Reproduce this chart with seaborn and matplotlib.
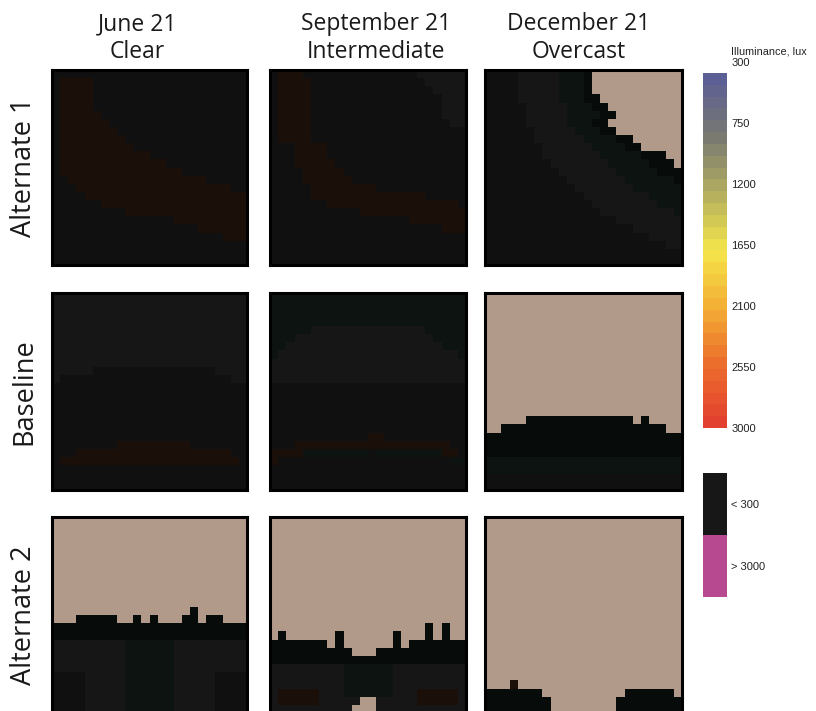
"""
Daylight illuminance grids: three design cases x three sky conditions.
"""
import numpy as np
import matplotlib
matplotlib.use("Agg")
import matplotlib.pyplot as plt
from matplotlib.colors import ListedColormap, LinearSegmentedColormap, Normalize
from matplotlib.cm import ScalarMappable
import seaborn as sns

sns.set_theme(style="white")
plt.rcParams["font.family"] = ["Open Sans", "DejaVu Sans"]

# --- data ---------------------------------------------------------------
dates = ["June 21", "September 21", "December 21"]
skies = ["Clear", "Intermediate", "Overcast"]
cases = ["Alternate 1", "Baseline", "Alternate 2"]

# cell classes (run-length rows, 24 cells each)
codes = [".", "d", "g", "x", "b", "t"]
code_colors = ["#101010", "#161616", "#0c1310", "#070b09", "#1b1009", "#b29a8b"]

alt1_jun = [
    ".24",
    ".1 b4 .19", ".1 b4 .19", ".1 b4 .19", ".1 b4 .19",
    ".1 b5 .18", ".1 b6 .17", ".1 b7 .16", ".1 b8 .15", ".1 b9 .14",
    ".1 b11 .12", ".1 b13 .10", ".1 b15 .8", ".2 b17 .5", ".3 b19 .2",
    ".4 b20", ".6 b18", ".9 b15", ".15 b9", ".18 b6", ".21 b3",
    ".24", ".24", ".24",
]
alt1_sep = [
    ".1 b3 .14 d6", ".1 b4 .14 d5", ".1 b4 .15 d4", ".1 b4 .16 d3",
    ".1 b4 .16 d3", ".1 b4 .16 d3", ".1 b4 .17 d2", ".1 b4 .19",
    ".1 b4 .19", ".3 b4 .17", ".3 b4 .17", ".3 b5 .16", ".4 b5 .15",
    ".4 b6 .14", ".5 b8 .11", ".5 b14 .5", ".7 b16 .1", ".11 b13",
    ".17 b7", ".21 b3",
    ".24", ".24", ".24", ".24",
]
alt1_dec = [
    ".4 d5 g3 x1 t11", ".4 d5 g3 x1 t11", ".4 d5 g3 x1 t11",
    ".4 d5 g3 x2 t10", ".5 d5 g3 x2 t9", ".5 d5 g4 x2 t8",
    ".5 d5 g3 x2 t9", ".6 d5 g3 x2 t8", ".6 d6 g4 x2 t6",
    ".7 d6 g4 x2 t5", ".7 d7 g5 x3 t2", ".8 d7 g5 x3 t1",
    ".9 d7 g5 x3", ".10 d7 g6 x1", ".11 d7 g6", ".12 d8 g4",
    ".13 d8 g3", ".14 d9 g1", ".16 d8", ".18 d6", ".20 d4", ".22 d2",
    ".24", ".24",
]
base_jun = (
    ["d24"] * 9
    + ["d5 .15 d4", "d1 .21 d2"]
    + [".24"] * 7
    + [".8 b9 .7", ".3 b19 .2", ".1 b22 .1"]
    + [".24"] * 3
)
base_sep = (
    ["g24"] * 4
    + ["g5 d14 g5", "g3 d17 g4", "g2 d19 g3", "g1 d22 g1"]
    + ["d24"] * 3
    + [".24"] * 6
    + [".12 b2 .10", ".3 b19 .2", "b4 g8 .1 g8 b2 .1", "b1 .21 g2"]
    + [".24"] * 3
)
base_dec = (
    ["t24"] * 15
    + ["t5 x13 t1 x1 t4", "t2 x20 t2"]
    + ["x24"] * 3
    + ["g24"] * 2
    + [".24"] * 2
)
alt2_jun = (
    ["t24"] * 11
    + ["t17 x1 t6", "t3 x5 t2 x1 t1 x1 t3 x2 t1 x2 t3"]
    + ["x24"] * 2
    + ["d9 g6 d9"] * 4
    + [".4 d5 g6 d5 .4"] * 5
)
alt2_sep = (
    ["t24"] * 13
    + ["t19 x1 t1 x1 t2",
       "t1 x1 t6 x1 t6 x1 t3 x1 t1 x1 t2",
       "x7 t1 x1 t6 x1 t1 x7",
       "x10 t3 x11",
       "x24"]
    + ["d9 g6 d9"] * 3
    + ["d1 b5 d3 g6 d3 b5 d1", "d1 b5 d5 t2 d5 b5 d1", "d10 t3 d11"]
)
alt2_dec = (
    ["t24"] * 20
    + ["t3 b1 t20", "x7 t10 x6 t1"]
    + ["x8 t8 x8"] * 2
)

panels = [
    [alt1_jun, alt1_sep, alt1_dec],
    [base_jun, base_sep, base_dec],
    [alt2_jun, alt2_sep, alt2_dec],
]

lux_ticks = [300, 750, 1200, 1650, 2100, 2550, 3000]
lux_colors = ["#5c5f94", "#787872", "#b3ad5f", "#f4e64a", "#f3ad35", "#ec6c2c", "#e2412f"]
range_labels = ["< 300", "> 3000"]
range_colors = ["#171717", "#b6498f"]


def decode(rows):
    """Turn run-length rows into an integer grid of class indices."""
    grid = []
    for row in rows:
        line = []
        for tok in row.split():
            line += [codes.index(tok[0])] * int(tok[1:])
        assert len(line) == 24, row
        grid.append(line)
    assert len(grid) == 24
    return np.array(grid)


# --- layout (pixel boxes on an 816x711 canvas) --------------------------
W, H = 816, 711


def box(x0, y0, x1, y1):
    return [x0 / W, 1 - y1 / H, (x1 - x0) / W, (y1 - y0) / H]


col_x = [(52, 247), (270, 466), (485, 682)]
row_y = [(70, 265), (293, 490), (517, 713)]

fig = plt.figure(figsize=(W / 100, H / 100), dpi=100)
cell_cmap = ListedColormap(code_colors)

for i, row in enumerate(panels):
    for j, rows in enumerate(row):
        ax = fig.add_axes(box(col_x[j][0], row_y[i][0], col_x[j][1], row_y[i][1]))
        sns.heatmap(decode(rows), cmap=cell_cmap, vmin=-0.5, vmax=len(codes) - 0.5,
                    cbar=False, xticklabels=False, yticklabels=False, ax=ax)
        for sp in ax.spines.values():
            sp.set_visible(True)
            sp.set_color("black")
            sp.set_linewidth(2.2)

# column and row headers
title_x = [137, 376, 579]
for j in range(3):
    fig.text(title_x[j] / W, 1 - 30 / H, dates[j], ha="center", va="baseline",
             fontsize=16.5, color="#1a1a1a")
    fig.text(title_x[j] / W, 1 - 58 / H, skies[j], ha="center", va="baseline",
             fontsize=16.5, color="#1a1a1a")
for i in range(3):
    yc = (row_y[i][0] + row_y[i][1]) / 2
    fig.text(24 / W, 1 - yc / H, cases[i], ha="center", va="center",
             rotation=90, fontsize=19.5, color="#1a1a1a")

# continuous illuminance scale
cmap = LinearSegmentedColormap.from_list("lux", lux_colors, N=30)
cax = fig.add_axes(box(703, 73, 727, 428))
cb = fig.colorbar(ScalarMappable(norm=Normalize(lux_ticks[0], lux_ticks[-1]), cmap=cmap),
                  cax=cax)
cb.outline.set_visible(False)
cax.invert_yaxis()
cax.set_yticks([])

lab_ax = fig.add_axes(box(703, 62, 727, 428))
lab_ax.set_ylim(lux_ticks[-1], lux_ticks[0])
lab_ax.set_yticks(lux_ticks)
lab_ax.set_yticklabels([str(t) for t in lux_ticks])
lab_ax.yaxis.tick_right()
lab_ax.tick_params(axis="y", length=0, pad=3, labelsize=8, labelcolor="#222222")
lab_ax.set_xticks([])
lab_ax.patch.set_visible(False)
for sp in lab_ax.spines.values():
    sp.set_visible(False)
for t in lab_ax.get_yticklabels():
    t.set_family(["Liberation Sans", "DejaVu Sans"])

fig.text(731 / W, 1 - 54 / H, "Illuminance, lux", ha="left", va="baseline",
         fontsize=7.8, family=["Liberation Sans", "DejaVu Sans"], color="#222222")

# out-of-range swatches
lax = fig.add_axes(box(703, 473, 727, 597))
sns.heatmap(np.array([[0], [1]]), cmap=ListedColormap(range_colors), vmin=-0.5, vmax=1.5,
            cbar=False, xticklabels=False, yticklabels=range_labels, ax=lax)
lax.yaxis.tick_right()
lax.tick_params(axis="y", length=0, pad=3, labelsize=8, rotation=0, labelcolor="#222222")
for t in lax.get_yticklabels():
    t.set_family(["Liberation Sans", "DejaVu Sans"])

plt.savefig("out.png", dpi=100)
plt.close()
